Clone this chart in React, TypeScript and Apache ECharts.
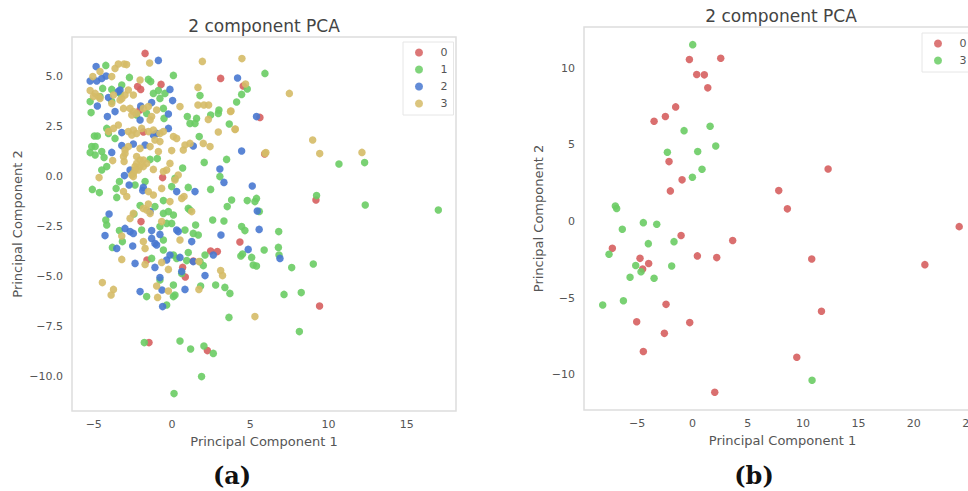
import React, { useEffect, useRef } from "react";
import * as echarts from "echarts";

const TITLE = "2 component PCA";
const X_NAME = "Principal Component 1";
const Y_NAME = "Principal Component 2";
const LEFT_NAMES = ["0", "1", "2", "3"];
const RIGHT_NAMES = ["0", "3"];
const LEFT_X_TICKS = [-5, 0, 5, 10, 15];
const LEFT_Y_TICKS = [-10, -7.5, -5, -2.5, 0, 2.5, 5];
const RIGHT_X_TICKS = [-5, 0, 5, 10, 15, 20, 25];
const RIGHT_Y_TICKS = [-10, -5, 0, 5, 10];
const RED = "#d65f5f";
const GREEN = "#6acc64";
const BLUE = "#4878d0";
const TAN = "#d5bb67";

const left0 = [[-1.72,6.13],[3.11,4.88],[-0.7,4.58],[-2,4.33],[-2.2,4.47],[4.55,4.5],[5.62,2.93],[-1.83,2.2],[-0.6,-0.08],[-1.98,-2.28],[-2.05,3.3],[9.2,-1.2],[5.92,1.1],[-1.47,-8.33],[2.26,-8.73],[4.34,-3.3],[0.85,-5.05],[0.68,-4.57],[-1.6,-4.2],[2.47,-3.75],[2.9,-3.78],[1.36,-4.25],[9.43,-6.5]];

const left1 = [[-4.23,5.53],[-2.72,4.93],[-1.51,4.83],[-1.36,4.72],[0.09,5.03],[5.94,5.13],[4.81,4.35],[4.45,4.08],[4.13,3.7],[1.79,4.02],[-1.19,4.13],[-0.87,4.27],[-0.77,3.88],[-0.45,4.13],[-5.23,3.72],[-5.17,3.17],[-4.43,4.38],[-3.85,4.33],[-3.21,4.55],[-3.32,4.13],[-4.6,3.97],[-3.85,3.72],[-0.55,3.38],[-0.51,2.88],[-2.26,3.05],[-1.62,3.13],[0.98,2.97],[1.15,2.63],[1.57,2.88],[1.47,2.63],[2.47,3.05],[2.96,3.13],[3,3.3],[3.66,2.6],[1.74,1.97],[-4.96,2],[-4.77,2],[-4.17,2.38],[-4.06,2.13],[-3.64,1.88],[-5.13,1.47],[-4.91,1.47],[-5.23,1.17],[-4.91,1.05],[-4.49,1.22],[-4.34,0.93],[-4.17,0.47],[-4.49,0.3],[-1.4,0.83],[-0.94,0.87],[0.68,0.4],[2.06,0.68],[3.49,0.83],[3.06,-0.03],[-5.09,-0.67],[-4.64,-0.83],[-3.57,-0.62],[-3.36,-0.28],[-3.53,-1.07],[-2.36,-0.45],[-1.72,-0.28],[0.19,-0.12],[-0.02,-0.53],[1.04,-0.57],[2.47,-0.67],[-0.55,-1.23],[3.81,-1.2],[3.53,-1.53],[4.81,-1.23],[5.4,-1.12],[5.3,-1.28],[1.04,-1.62],[-2.04,-1.48],[-1.09,-1.53],[-2.43,-1.9],[-0.55,-1.87],[-0.23,-1.78],[0.09,-1.95],[-0.34,-2.37],[-0.02,-2.37],[-0.77,-2.53],[-4.23,-2.2],[-4.17,-2.45],[-3.36,-2.73],[-1.94,-2.7],[2.6,-2.2],[3.32,-2.25],[1.51,-2.45],[1.15,-1.7],[4.45,-2.53],[4.66,-2.73],[1.36,-2.87],[1.68,-2.95],[0.83,-2.7],[9.24,-0.98],[10.67,0.6],[12.31,0.67],[12.35,-1.45],[17.02,-1.7],[6.82,-2.78],[5.58,-1.77],[-0.55,-3.2],[-3.81,-3.57],[-3.17,-3.28],[-1.3,-4.12],[-0.55,-3.7],[0.09,-3.95],[0.3,-4.12],[1.04,-3.83],[0.94,-4.23],[2.11,-3.95],[1.79,-4.28],[2,-4.48],[0.62,-4.87],[-0.77,-5.2],[0.09,-5.45],[-1.62,-6.03],[0.09,-6.03],[0.19,-5.95],[-0.34,-6.45],[1.83,-5.5],[2.79,-5.45],[3.38,-5.57],[3.7,-5.87],[4.4,-4],[4.51,-3.9],[5.09,-4.07],[5.89,-3.7],[5.19,-4.45],[5.4,-4.5],[3.64,-7.07],[0.51,-8.25],[1.19,-8.65],[2.04,-8.5],[2.64,-8.87],[-1.77,-8.33],[1.89,-10.03],[0.13,-10.88],[6.8,-3.57],[6.84,-3.95],[7.65,-4.58],[9.03,-4.4],[7.16,-5.92],[8.26,-5.83],[8.14,-7.78]];

const left2 = [[-0.87,5.78],[-4.85,5.47],[4.19,4.9],[-5.23,4.75],[-4.81,4.75],[-4.49,4.88],[-4.21,5],[-3.32,4.3],[-3.43,4.22],[-0.13,4.33],[0.04,3.77],[-4.06,3.92],[-4.77,3.5],[-1.3,3.67],[-2,3.5],[-3.64,3.22],[-4.13,2.97],[-0.23,3.1],[-2.04,2.8],[5.4,2.97],[-0.23,2.38],[-3.21,2.17],[-1.19,2.05],[-0.98,2.13],[-3.21,1.52],[-2.47,1.6],[-1.72,1.55],[1.36,1.5],[-3.85,1.18],[4.45,1.25],[3.06,0.35],[3.32,-0.32],[5.13,-0.5],[-3.04,0.02],[-2.68,0.3],[-2.74,-0.45],[-1.83,-0.57],[-1.87,-0.73],[0.3,-0.78],[1.47,-0.78],[-4.02,-1.9],[-1.4,-1.78],[5.45,-1.75],[-3,-2.62],[-2.68,-2.78],[-2.47,-2.87],[-1.3,-2.73],[-0.77,-2.92],[0.3,-2.7],[5.57,-2.67],[3.13,-2.95],[-4.28,-2.98],[-2.51,-3.5],[-3.53,-3.62],[-2.36,-4.37],[-1.3,-3.12],[-1.09,-3.37],[-0.98,-3.45],[0.4,-2.78],[1.26,-3.28],[4.87,-3.67],[0.51,-4.07],[-0.13,-3.95],[-0.34,-4.2],[-1.09,-4.57],[-0.77,-5.08],[0.83,-5.67],[-0.64,-5.7],[-2.04,-5.78],[2.11,-4.98],[-0.6,-6.53],[0.62,-4.78],[2.64,-3.95],[1.36,-4.28],[6.9,-4.12]];

const left3 = [[-1.43,5.65],[-3.64,5.38],[-3.43,5.6],[-3.06,5.6],[-2.9,5.57],[1.94,5.73],[4.47,5.87],[7.5,4.13],[8.99,1.8],[9.44,1.12],[12.14,1.18],[6,1.17],[4.03,2.33],[3.77,3.25],[4.7,4.6],[1.66,4.43],[0.51,3.47],[1.66,3.55],[2.04,3.55],[2.34,3.55],[3.74,3.23],[2.96,2.2],[4.04,2.35],[2.32,2.83],[5.94,1.13],[-5.23,4.27],[-4.91,4.13],[-4.7,3.97],[-5.02,3.97],[-4.6,3.88],[-3.85,4.97],[-4.6,5.22],[-5.06,4.97],[-2.04,4.8],[-3.74,4.05],[-3.2,3.88],[-2.79,4.3],[-2.47,4.05],[-3,4.05],[-3.85,3.63],[-3.32,3.8],[-3.1,3.38],[-2.68,3.38],[-2.47,3.22],[-2.26,3.13],[-1.83,3.38],[-1.51,3.47],[-1.3,2.97],[-1.4,2.8],[-0.98,3.3],[-2.57,3.05],[-3.43,2.55],[-3.74,2.38],[-4.06,2.22],[-2.79,2.22],[-2.47,2.3],[-2.26,2.13],[-1.94,2.38],[-1.51,2.22],[-1.19,2.3],[-0.77,2.13],[-0.55,2.22],[0.09,1.97],[0.3,1.88],[-2.57,2.05],[-0.77,1.72],[-1.09,1.8],[-1.4,1.47],[-3,1.3],[-2.79,1.47],[-3.1,0.97],[-3,1.13],[-2.04,1.38],[0.83,1.55],[1.15,1.63],[2,1.63],[2.43,1.47],[-0.02,1.27],[0.72,1.3],[-2.26,0.97],[-2.04,0.8],[-2.26,0.63],[-1.83,0.8],[-2.36,0.47],[-2.04,0.47],[-2.47,0.13],[-2.57,0.05],[-2.15,0.3],[-1.83,0.47],[-1.62,0.63],[-2.47,-0.03],[-2.36,0.3],[-0.87,1.22],[-3.79,0.77],[-3.06,0.73],[-1.19,0.33],[-0.13,0.63],[-0.34,0.3],[-0.55,0.22],[0.4,0.05],[0.19,-0.2],[-4.66,-0.08],[-3.1,-0.78],[-2.89,-1.03],[-1.51,-0.78],[-1.19,-0.95],[-0.66,-0.62],[-0.13,-1.28],[0.62,-1.12],[0.77,-1.03],[-1.62,-1.7],[-1.83,-1.62],[-1.51,-1.4],[-1.4,-1.87],[-2.68,-2.12],[-2.47,-1.87],[-0.66,-2.28],[1.26,-1.78],[-3.21,-3],[-1.83,-3.28],[-1.72,-3.62],[0.51,-3.2],[-3.21,-4.17],[-1.72,-4.42],[-0.66,-4.32],[-0.23,-4.67],[1.72,-4.28],[3.11,-4.73],[3.23,-4.98],[-0.98,-5.5],[-0.23,-5.75],[-0.92,-6.07],[-3.74,-5.67],[-3.89,-5.95],[-4.45,-5.33],[1.72,-5.67],[5.3,-7.03]];

const right0 = [[-0.27,10.57],[2.56,10.65],[0.39,9.59],[1.08,9.57],[1.39,8.72],[-1.51,7.48],[-2.44,6.85],[-3.46,6.54],[-2.11,3.91],[-0.93,2.72],[-1.99,2],[-1.02,-0.91],[3.64,-1.24],[12.26,3.43],[7.8,2.02],[8.58,0.83],[24.1,-0.33],[-7.23,-1.74],[0.45,-2.24],[2.2,-2.35],[-4.73,-2.4],[-3.95,-2.74],[-4.49,-3.09],[-2.38,-5.4],[-5.03,-6.53],[-0.24,-6.59],[-2.53,-7.29],[-4.43,-8.48],[2.02,-11.13],[10.78,-2.44],[21,-2.81],[11.66,-5.85],[9.43,-8.85]];

const right3 = [[0.03,11.54],[-0.75,5.93],[1.6,6.22],[2.11,4.93],[-2.26,4.52],[0.48,4.57],[0.87,3.41],[0,2.89],[-6.96,1.02],[-6.84,0.85],[-4.43,-0.07],[-3.22,-0.17],[-6.33,-0.5],[-3.98,-1.44],[-1.66,-1.31],[-7.53,-2.13],[-5.12,-2.87],[-1.87,-2.9],[-5.63,-3.63],[-3.46,-3.7],[-4.64,-3.27],[-6.23,-5.16],[-8.1,-5.44],[10.81,-10.35]];

const TEXT = "#555555";
const FONT = "DejaVu Sans";
const fmt = (v: number, d: number) => v.toFixed(d).replace("-", "\u2212");

const xAxisOf = (gridIndex: number, min: number, max: number, ticks: number[]) => ({
  type: "value", gridIndex, min, max,
  name: X_NAME, nameLocation: "middle", nameGap: 21,
  nameTextStyle: { color: TEXT, fontSize: 13, fontFamily: FONT },
  axisLine: { show: false }, axisTick: { show: false }, splitLine: { show: false },
  axisLabel: { color: TEXT, fontSize: 11, fontFamily: FONT, margin: 8, customValues: ticks, formatter: (v: number) => fmt(v, 0) },
});
const yAxisOf = (gridIndex: number, min: number, max: number, ticks: number[], d: number, gap: number) => ({
  type: "value", gridIndex, min, max,
  name: Y_NAME, nameLocation: "middle", nameGap: gap,
  nameTextStyle: { color: TEXT, fontSize: 13, fontFamily: FONT },
  axisLine: { show: false }, axisTick: { show: false }, splitLine: { show: false },
  axisLabel: { color: TEXT, fontSize: 11, fontFamily: FONT, margin: 9, customValues: ticks, formatter: (v: number) => fmt(v, d) },
});
const scatter = (name: string, data: number[][], color: string, idx: number) => ({
  type: "scatter", name, data, xAxisIndex: idx, yAxisIndex: idx, symbolSize: 7.5,
  itemStyle: { color, opacity: 0.9 },
});
const legendOf = (names: string[], colors: string[], left: number, top: number) => ({
  orient: "vertical", left, top, padding: [5, 6, 6, 12], selectedMode: false,
  itemWidth: 33, itemHeight: 8, itemGap: 6, icon: "circle",
  backgroundColor: "#ffffff", borderColor: "#e6e6e6", borderWidth: 1,
  textStyle: { color: TEXT, fontSize: 11, fontFamily: FONT },
  data: names.map((name, i) => ({ name, itemStyle: { color: colors[i], opacity: 0.85 } })),
});

export default function App() {
  const ref = useRef<HTMLDivElement>(null);
  useEffect(() => {
    const chart = echarts.init(ref.current!, null, { renderer: "svg" });
    chart.setOption({
      animation: false,
      backgroundColor: "#ffffff",
      title: [
        { text: TITLE, left: 259, top: 12, textAlign: "center", textStyle: { color: "#444444", fontSize: 17, fontWeight: "normal", fontFamily: FONT } },
        { text: TITLE, left: 776, top: 2, textAlign: "center", textStyle: { color: "#444444", fontSize: 17, fontWeight: "normal", fontFamily: FONT } },
        { text: "(a)", left: 227, top: 458, textAlign: "center", textStyle: { color: "#111111", fontSize: 24, fontWeight: "bold", fontFamily: "DejaVu Serif" } },
        { text: "(b)", left: 749, top: 458, textAlign: "center", textStyle: { color: "#111111", fontSize: 24, fontWeight: "bold", fontFamily: "DejaVu Serif" } },
      ],
      grid: [
        { left: 72, top: 37, width: 384, height: 374, show: true, borderColor: "#dddddd", borderWidth: 1.5, backgroundColor: "#ffffff", containLabel: false, outerBoundsMode: "none" },
        { left: 584, top: 27, width: 397, height: 383, show: true, borderColor: "#dddddd", borderWidth: 1.5, backgroundColor: "#ffffff", containLabel: false, outerBoundsMode: "none" },
      ],
      xAxis: [xAxisOf(0, -6.39, 18.15, LEFT_X_TICKS), xAxisOf(1, -9.79, 26.07, RIGHT_X_TICKS)],
      yAxis: [yAxisOf(0, -11.75, 6.95, LEFT_Y_TICKS, 1, 48), yAxisOf(1, -12.29, 12.69, RIGHT_Y_TICKS, 0, 39)],
      legend: [
        legendOf(LEFT_NAMES, [RED, GREEN, BLUE, TAN], 403, 42),
        legendOf(RIGHT_NAMES, [RED, GREEN], 922, 33),
      ],
      series: [
        scatter("0", left0, RED, 0),
        scatter("1", left1, GREEN, 0),
        scatter("2", left2, BLUE, 0),
        scatter("3", left3, TAN, 0),
        scatter("0", right0, RED, 1),
        scatter("3", right3, GREEN, 1),
      ],
    });
    return () => chart.dispose();
  }, []);
  return <div ref={ref} style={{ position: "absolute", left: 0, top: 0, width: 968, height: 491 }} />;
}
